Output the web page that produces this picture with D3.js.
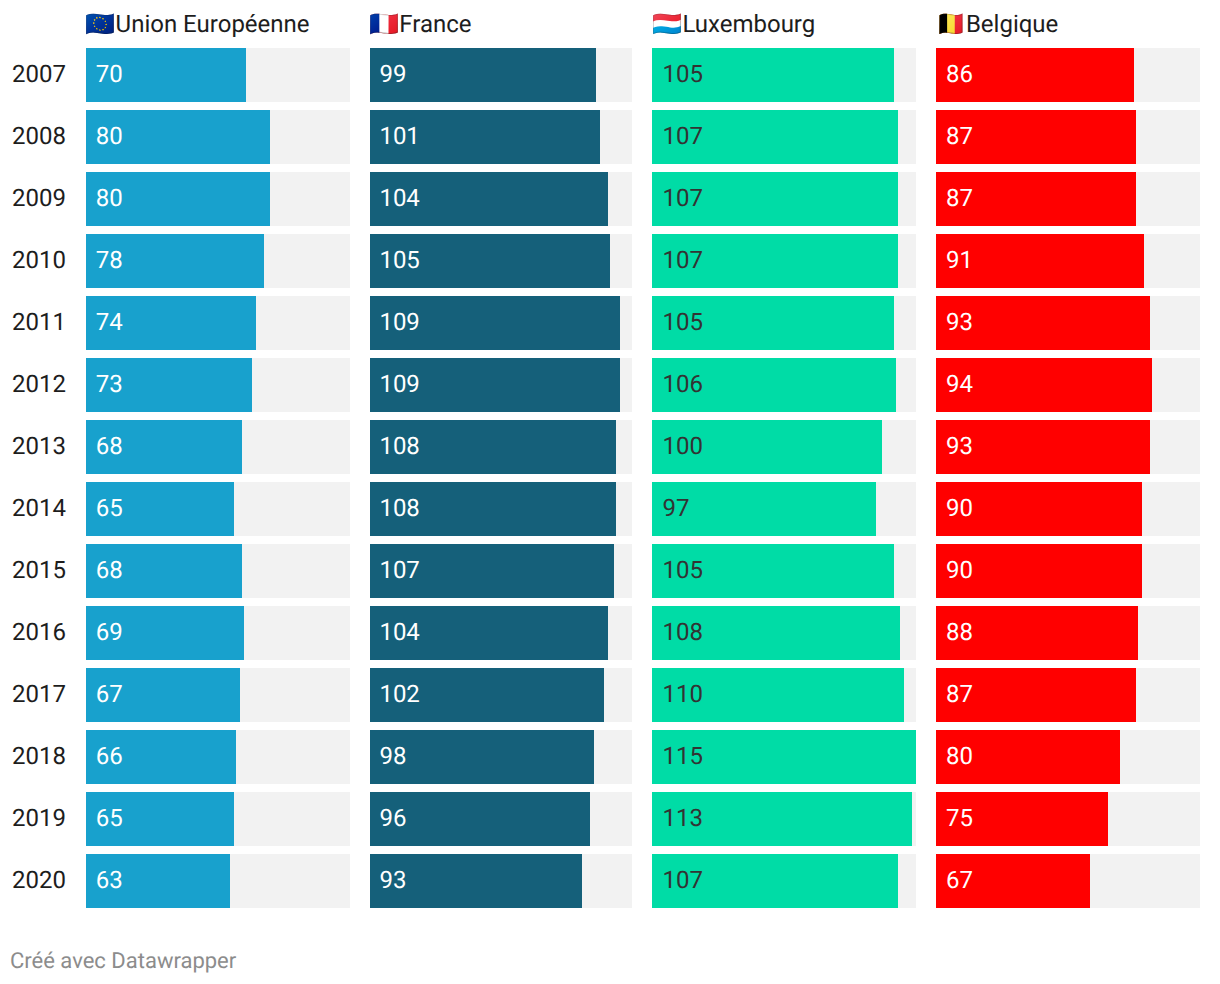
<!DOCTYPE html>
<html><head><meta charset="utf-8">
<script src="https://cdn.jsdelivr.net/npm/d3@7/dist/d3.min.js"></script>
<style>html,body{margin:0;padding:0;background:#fff}svg{display:block}text{font-family:Roboto,sans-serif;text-rendering:geometricPrecision}</style>
</head><body><div id="chart"></div>
<script>
const years = [2007,2008,2009,2010,2011,2012,2013,2014,2015,2016,2017,2018,2019,2020];
const seriesNames = ["🇪🇺Union Européenne","🇫🇷France","🇱🇺Luxembourg","🇧🇪Belgique"];
// Values; the printed labels are these values rounded.
const ue = [70,80,80,77.6,74,72.6,68,64.6,68,69,67,65.6,64.6,63];
const france = [99,101,104.4,105,109.4,109.4,108,108,107,104.4,102.4,98,96.4,93];
const luxembourg = [105,107,107,107,105,106,100,97.4,105,108,110,115,113,107];
const belgique = [86,87,87,91,93,94,93,90,90,88,87,80,75,67];
const seriesValues = [ue,france,luxembourg,belgique];
const barColors = ["#18a1cd","#15607a","#00dca6","#ff0000"];
const labelColors = ["#ffffff","#ffffff","#333333","#ffffff"];
const panelLeft = [86,370,652,936], panelRight = [350,632,916,1200];
const textLeft = [85.7,369.4,652.5,936];

const svg = d3.select("#chart").append("svg").attr("width",1220).attr("height",984);
const yy = d3.scalePoint().domain(years).range([48,48+62*13]);
const even = v => Math.round(v/2)*2;
const fmt = d3.format(".0f");

svg.append("g").selectAll("text").data(years).join("text")
  .attr("x",12).attr("y",d=>yy(d)+26).attr("dy","0.35em")
  .attr("font-size",24).attr("fill","#1d1d1d").text(d=>d);

seriesValues.forEach((vals,i)=>{
  const x = d3.scaleLinear().domain([0,115]).range([panelLeft[i],panelRight[i]]);
  const g = svg.append("g");
  g.append("text").attr("x",textLeft[i]).attr("y",32).attr("font-size",24).attr("fill","#1d1d1d").text(seriesNames[i]);
  const rows = g.selectAll("g").data(vals).join("g").attr("transform",(d,j)=>`translate(0,${yy(years[j])})`);
  rows.append("rect").attr("x",x(0)).attr("y",0).attr("width",x(115)-x(0)).attr("height",54).attr("fill","#f2f2f2");
  rows.append("rect").attr("x",x(0)).attr("y",0).attr("width",d=>even(x(d)-x(0))).attr("height",54).attr("fill",barColors[i]);
  rows.append("text").attr("x",textLeft[i]+10).attr("y",26).attr("dy","0.35em").attr("font-size",24).attr("fill",labelColors[i]).text(d=>fmt(d));
});
svg.append("text").attr("x",10).attr("y",968).attr("font-size",22).attr("fill","#8c8c8c").text("Créé avec Datawrapper");
</script></body></html>
